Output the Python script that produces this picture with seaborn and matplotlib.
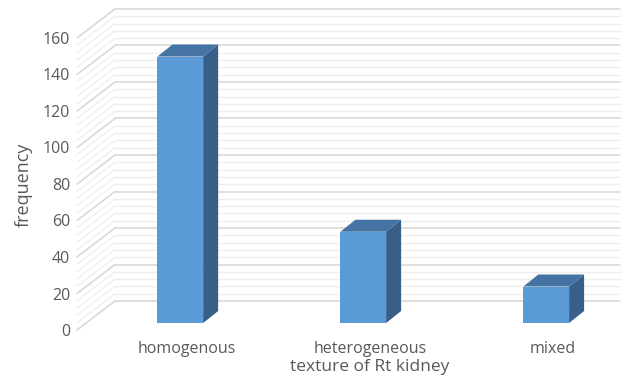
import numpy as np
import pandas as pd
import matplotlib
matplotlib.use("Agg")
import matplotlib.pyplot as plt
import seaborn as sns
from matplotlib.patches import Polygon
from matplotlib.transforms import IdentityTransform, ScaledTranslation

# ---- data ----
categories = ["homogenous", "heterogeneous", "mixed"]
frequency = [146, 50, 20]
y_ticks = [0, 20, 40, 60, 80, 100, 120, 140, 160]
x_title = "texture of Rt kidney"
y_title = "frequency"

sns.set_theme(style="white")
plt.rcParams['font.family'] = ['Open Sans', 'DejaVu Sans']

W, H = 624, 378
DPI = 100
fig = plt.figure(figsize=(W / DPI, H / DPI), dpi=DPI)
fig.patch.set_facecolor("white")
ax = fig.add_axes([77 / W, (H - 330) / H, 505 / W, 292 / H])

df = pd.DataFrame({"texture": categories, "frequency": frequency})
sns.barplot(data=df, x="texture", y="frequency", color="#5b9bd5",
            saturation=1, width=0.25, ax=ax, zorder=3)

XL, XR = -0.60, 2.16
ax.set_xlim(XL, XR)
ax.set_ylim(0, 160)
ax.set_autoscale_on(False)
ax.patch.set_alpha(0)
for s in ax.spines.values():
    s.set_visible(False)

# perspective offsets in pixels
BACK = (38, 29)      # back wall relative to front plane
BAR = (-6.5, 7)      # bar front face relative to front plane
DEPTH = (15, 12)     # bar depth

def px(dx, dy):
    return ScaledTranslation(dx / DPI, dy / DPI, fig.dpi_scale_trans)

# back wall gridlines + left wall diagonals
for v in range(0, 161, 4):
    major = (v % 20 == 0)
    col = "#d9d9d9" if major else "#efefef"
    lw = 1.2 if major else 1.0
    ax.plot([XL, XR], [v, v], transform=ax.transData + px(*BACK),
            color=col, lw=lw, clip_on=False, zorder=0)
    p0 = ax.transData.transform((XL, v))
    p1 = p0 + np.array(BACK)
    ax.plot([p0[0], p1[0]], [p0[1], p1[1]], transform=IdentityTransform(),
            color=col, lw=lw, clip_on=False, zorder=0)

# bars: shift front faces, add top and side faces
top_col = "#4473a4"
side_col = "#375f88"
for p in list(ax.patches):
    p.set_transform(ax.transData + px(*BAR))
    p.set_edgecolor("none")
    x0, w, h = p.get_x(), p.get_width(), p.get_height()
    bl = ax.transData.transform((x0, 0)) + np.array(BAR)
    br = ax.transData.transform((x0 + w, 0)) + np.array(BAR)
    tl = ax.transData.transform((x0, h)) + np.array(BAR)
    tr = ax.transData.transform((x0 + w, h)) + np.array(BAR)
    d = np.array(DEPTH)
    side = Polygon([br, tr, tr + d, br + d], closed=True, facecolor=side_col,
                   edgecolor="none", transform=IdentityTransform(), clip_on=False, zorder=3)
    top = Polygon([tl, tr, tr + d, tl + d], closed=True, facecolor=top_col,
                  edgecolor="none", transform=IdentityTransform(), clip_on=False, zorder=3)
    ax.add_artist(side)
    ax.add_artist(top)

# axes text
ax.set_yticks(y_ticks)
ax.set_yticklabels([str(t) for t in y_ticks])
ax.tick_params(axis="y", length=0, pad=5, labelsize=11.5, labelcolor="#595959")
ax.tick_params(axis="x", length=0, pad=8, labelsize=11.5, labelcolor="#595959")
ax.set_xlabel(x_title, fontsize=12.5, color="#595959", va="center")
ax.set_ylabel(y_title, fontsize=13, color="#595959", va="center")
ax.xaxis.set_label_coords((1 - XL) / (XR - XL), (330 - 367) / 292)
ax.yaxis.set_label_coords((24 - 77) / 505, (330 - 185) / 292)
ax.grid(False)

fig.savefig("out.png", dpi=DPI, facecolor="white")
